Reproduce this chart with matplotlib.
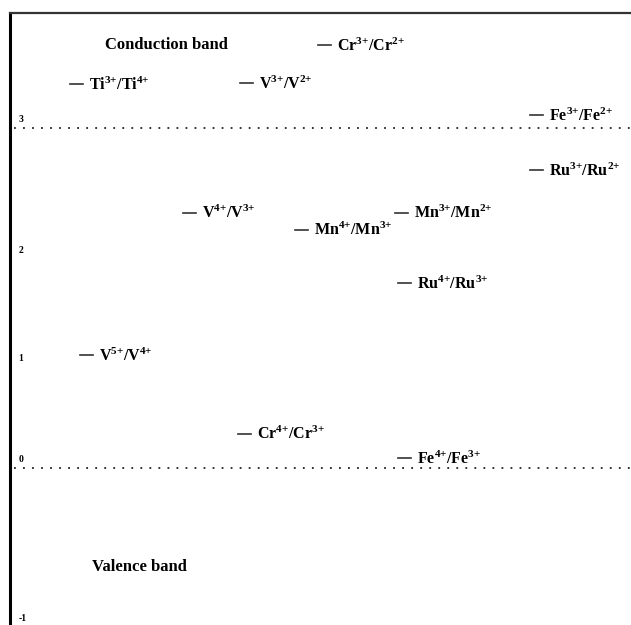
import matplotlib
matplotlib.use('Agg')
import matplotlib.pyplot as plt

# --- Data: redox levels (eV above the valence band edge) ---
couples = ['Ti^{3{+}}/Ti^{4{+}}', 'V^{3{+}}/V^{2{+}}', 'Cr^{3{+}}/Cr^{2{+}}', 'Fe^{3{+}}/Fe^{2{+}}',
           'Ru^{3{+}}/Ru^{2{+}}', 'V^{4{+}}/V^{3{+}}', 'Mn^{3{+}}/Mn^{2{+}}', 'Mn^{4{+}}/Mn^{3{+}}',
           'Ru^{4{+}}/Ru^{3{+}}', 'V^{5{+}}/V^{4{+}}', 'Cr^{4{+}}/Cr^{3{+}}', 'Fe^{4{+}}/Fe^{3{+}}']
energies = [3.61, 3.62, 3.98, 3.32, 2.80, 2.40, 2.40, 2.24, 1.74, 1.06, 0.32, 0.09]
columns = [70, 240, 318, 530, 530, 183, 395, 295, 398, 80, 238, 398]

band_edges = [3.2, 0.0]
band_names = ['Conduction band', 'Valence band']
band_label_e = [3.98, -0.93]
band_label_x = [105, 92]

tick_pos = [3.29, 2.05, 1.04, 0.09, -1.41]
tick_lab = ['3', '2', '1', '0', '-1']

plt.rcParams['mathtext.fontset'] = 'custom'
plt.rcParams['mathtext.rm'] = 'Liberation Serif'
plt.rcParams['mathtext.bf'] = 'Liberation Serif:bold'

fig = plt.figure(figsize=(6.31, 6.25), dpi=100)
ax = fig.add_axes([10 / 631, 0, 621 / 631, 612 / 625])
ax.set_xlim(10, 631)
ax.set_ylim(-1.48, 4.28)

# band edges
for e in band_edges:
    ax.plot([14, 631], [e, e], color='#222222', lw=1.3, linestyle=(0, (1, 4)))

for name, e, x in zip(band_names, band_label_e, band_label_x):
    ax.text(x, e, name, fontsize=12, fontweight='bold', family='Liberation Serif',
            va='center', ha='left')

# redox levels
for c, e, x in zip(couples, energies, columns):
    ax.plot([x, x + 13], [e, e], color='#333333', lw=1.2)
    ax.text(x + 19, e, r'$\mathbf{' + c + '}$', fontsize=11.5, va='center', ha='left')

ax.set_yticks(tick_pos)
ax.set_yticklabels(tick_lab, fontsize=7, fontweight='bold', family='Liberation Serif')
ax.tick_params(axis='y', length=0, pad=-6)
for t in ax.get_yticklabels():
    t.set_horizontalalignment('left')
ax.set_xticks([])

for s in ['right', 'bottom']:
    ax.spines[s].set_visible(False)
ax.spines['left'].set_linewidth(2.2)
ax.spines['top'].set_linewidth(1.6)
ax.spines['top'].set_color('#333333')

fig.savefig('out.png', dpi=100)
